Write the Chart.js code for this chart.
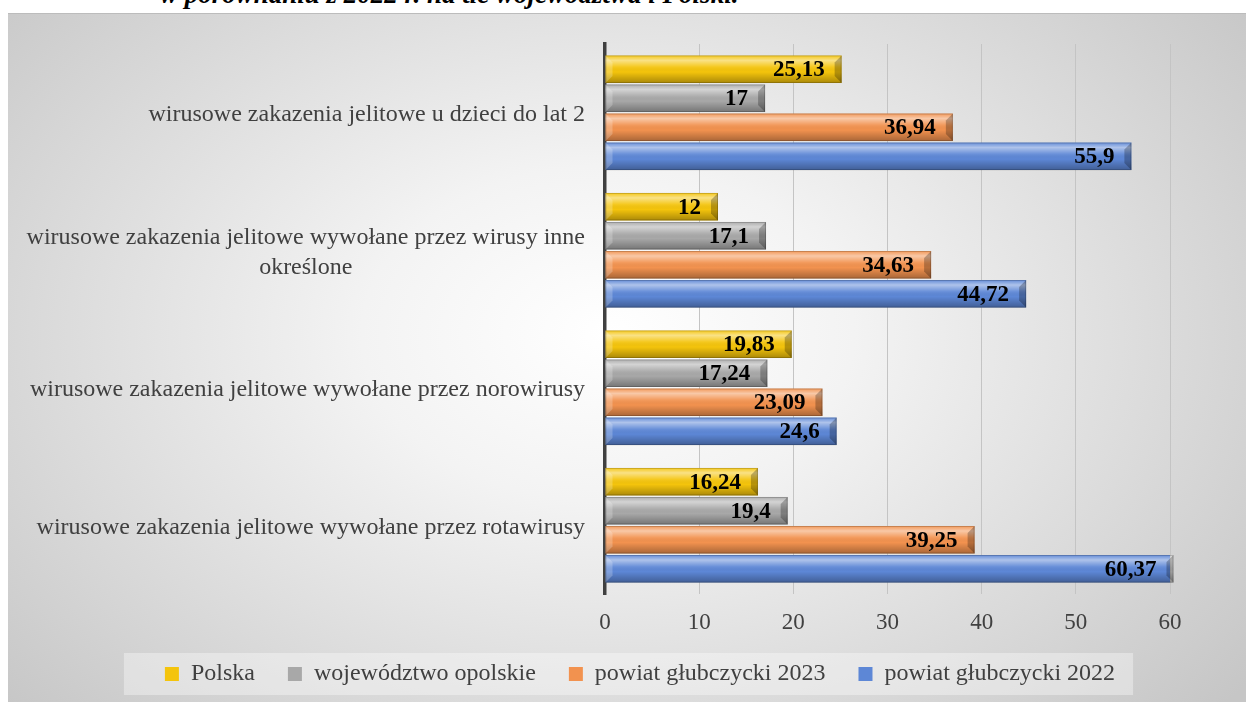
<!DOCTYPE html>
<html>
<head>
<meta charset="utf-8">
<script src="https://cdn.jsdelivr.net/npm/chart.js@4.4.0/dist/chart.umd.min.js"></script>
<style>
  body { margin:0; width:1246px; height:702px; overflow:hidden; position:relative; background:#fff; font-family:"Liberation Serif", serif; }
  #title { position:absolute; left:160px; top:-21px; font-style:italic; font-weight:bold; font-size:27px; white-space:nowrap; color:#000; }
  #box { position:absolute; left:8px; top:13px; width:1238px; height:689px; border-top:1px solid #bcbcbc; box-sizing:border-box;
         background:radial-gradient(ellipse 820px 560px at 600px 320px, #ffffff 0%, #f3f3f3 30%, #c6c6c6 100%); }
  #box canvas { position:absolute; left:0; top:0; }
</style>
</head>
<body>
<div id="title">w porównaniu z 2022 r. na tle województwa i Polski.</div>
<div id="box"><canvas id="mycanvas" width="1238" height="688"></canvas></div>
<script>
// categories top to bottom, multi-line where the original wraps
var categories = [
  ["wirusowe zakazenia jelitowe u dzieci do lat 2"],
  ["wirusowe zakazenia jelitowe wywołane przez wirusy inne", "określone"],
  ["wirusowe zakazenia jelitowe wywołane przez norowirusy"],
  ["wirusowe zakazenia jelitowe wywołane przez rotawirusy"]
];
var seriesNames = ["Polska", "województwo opolskie", "powiat głubczycki 2023", "powiat głubczycki 2022"];
var polska      = [25.13, 12, 19.83, 16.24];
var wojewodztwo = [17, 17.1, 17.24, 19.4];
var powiat2023  = [36.94, 34.63, 23.09, 39.25];
var powiat2022  = [55.9, 44.72, 24.6, 60.37];
var xTicks = [0, 10, 20, 30, 40, 50, 60];

var colors = ["#f4c40c", "#a8a8a8", "#f2924f", "#5d87d6"];
var font = "Liberation Serif";

function fmt(v) { return String(v).replace(".", ","); }

// bevel look on every bar + value label at the inner end
var bevel = {
  id: "bevel",
  afterDatasetsDraw: function(chart) {
    var c = chart.ctx;
    chart.data.datasets.forEach(function(ds, di) {
      chart.getDatasetMeta(di).data.forEach(function(bar, i) {
        var p = bar.getProps(["x", "y", "base", "height"], true);
        var l = p.base, r = p.x, t = p.y - p.height / 2, b = p.y + p.height / 2;
        var g = c.createLinearGradient(0, t, 0, b);
        g.addColorStop(0, "rgba(255,255,255,0.05)");
        g.addColorStop(0.18, "rgba(255,255,255,0.5)");
        g.addColorStop(0.42, "rgba(255,255,255,0.08)");
        g.addColorStop(0.6, "rgba(0,0,0,0)");
        g.addColorStop(1, "rgba(0,0,0,0.3)");
        c.save();
        c.fillStyle = g;
        c.fillRect(l, t, r - l, b - t);
        var e = 7;
        c.fillStyle = "rgba(0,0,0,0.25)";
        c.beginPath();
        c.moveTo(r - e, t + e); c.lineTo(r, t); c.lineTo(r, b); c.lineTo(r - e, b - e); c.closePath();
        c.fill();
        c.fillStyle = "rgba(255,255,255,0.22)";
        c.beginPath();
        c.moveTo(l, t); c.lineTo(l + e, t + e); c.lineTo(l + e, b - e); c.lineTo(l, b); c.closePath();
        c.fill();
        c.strokeStyle = "rgba(0,0,0,0.18)";
        c.lineWidth = 1;
        c.strokeRect(l + 0.5, t + 0.5, r - l - 1, b - t - 1);
        c.fillStyle = "#000";
        c.font = "bold 23px '" + font + "'";
        c.textAlign = "right";
        c.textBaseline = "middle";
        c.fillText(fmt(ds.data[i]), r - 17, p.y + 1);
        c.restore();
      });
    });
  }
};

// axis texts: category labels (right aligned block, lines centred) and x ticks
var axisText = {
  id: "axisText",
  afterDraw: function(chart) {
    var c = chart.ctx, ys = chart.scales.y, xs = chart.scales.x;
    c.save();
    c.font = "24px '" + font + "'";
    c.fillStyle = "#404040";
    c.textAlign = "center";
    c.textBaseline = "middle";
    categories.forEach(function(lines, i) {
      var y = ys.getPixelForValue(i) + 2;
      var w = 0;
      lines.forEach(function(s) { w = Math.max(w, c.measureText(s).width); });
      var cx = 577 - w / 2;
      lines.forEach(function(s, j) {
        c.fillText(s, cx, y + (j - (lines.length - 1) / 2) * 30);
      });
    });
    c.font = "23px '" + font + "'";
    xTicks.forEach(function(v) {
      c.fillText(String(v), xs.getPixelForValue(v), xs.top + 29);
    });
    c.restore();
  }
};

// lighter box behind the legend
var legendBg = {
  id: "legendBg",
  beforeDraw: function(chart) {
    var hb = chart.legend.legendHitBoxes;
    if (!hb || !hb.length) return;
    var l = hb[0].left, r = hb[hb.length - 1].left + hb[hb.length - 1].width;
    var c = chart.ctx;
    c.save();
    c.fillStyle = "rgba(255,255,255,0.36)";
    c.fillRect(l - 41, hb[0].top + hb[0].height / 2 - 21, r - l + 59, 42);
    c.restore();
  }
};

var ctx = document.getElementById("mycanvas");
var chart = new Chart(ctx, {
  type: "bar",
  data: {
    labels: categories.map(function(l) { return l.join(" "); }),
    datasets: [
      { label: seriesNames[0], data: polska, backgroundColor: colors[0] },
      { label: seriesNames[1], data: wojewodztwo, backgroundColor: colors[1] },
      { label: seriesNames[2], data: powiat2023, backgroundColor: colors[2] },
      { label: seriesNames[3], data: powiat2022, backgroundColor: colors[3] }
    ]
  },
  options: {
    indexAxis: "y",
    responsive: false,
    animation: false,
    datasets: { bar: { barPercentage: 0.95, categoryPercentage: 0.845 } },
    layout: { padding: { top: 30, left: 26, right: 0, bottom: 6 } },
    scales: {
      x: {
        min: 0, max: 60,
        afterBuildTicks: function(s) { s.ticks = xTicks.map(function(v) { return { value: v }; }); },
        grid: { color: function(c) { return c.tick && c.tick.value === 0 ? "rgba(0,0,0,0)" : "#c4c4c4"; }, drawTicks: false },
        border: { display: false },
        ticks: { display: false },
        afterFit: function(s) { s.height = 35; }
      },
      y: {
        grid: { display: false },
        border: { display: true, color: "#404040", width: 3.5 },
        ticks: { display: false },
        afterFit: function(s) { s.width = 571; }
      },
      yr: {
        type: "category",
        position: "right",
        grid: { display: false },
        border: { display: false },
        ticks: { display: false },
        afterFit: function(s) { s.width = 76; }
      }
    },
    plugins: {
      tooltip: { enabled: false },
      legend: {
        position: "bottom",
        labels: { boxWidth: 14, boxHeight: 14, padding: 33, color: "#404040", font: { family: font, size: 24 } }
      }
    }
  },
  plugins: [legendBg, bevel, axisText]
});
</script>
</body>
</html>
